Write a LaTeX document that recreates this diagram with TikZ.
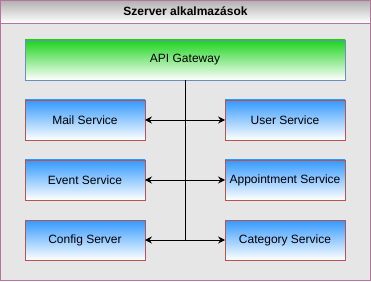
\documentclass[tikz,border=0pt]{standalone}
\usepackage{fontspec}
\setmainfont{Liberation Sans}
\usetikzlibrary{arrows.meta,positioning}
\definecolor{FrameLine}{HTML}{B5739D}
\definecolor{BodyGray}{HTML}{E6E6E6}
\definecolor{TitleGray}{HTML}{B0B0B0}
\definecolor{GateGreen}{HTML}{1ED31E}
\definecolor{GateLine}{HTML}{6C8EBF}
\definecolor{SvcBlue}{HTML}{3399FF}
\definecolor{SvcLine}{HTML}{B85450}
\tikzset{
  gwbox/.style={draw=GateLine, line width=0.8pt, top color=GateGreen, bottom color=white, minimum width=320pt, minimum height=40pt, inner sep=0pt, outer sep=0pt, font=\fontsize{12}{14}\selectfont},
  svcbox/.style={draw=SvcLine, line width=0.8pt, top color=SvcBlue, bottom color=white, minimum width=120pt, minimum height=40pt, inner sep=0pt, outer sep=0pt, font=\fontsize{12}{14}\selectfont},
  busline/.style={draw=black, line width=0.9pt},
  busarrow/.style={busline, {Stealth[length=7pt,width=7pt,inset=2.5pt]}-{Stealth[length=7pt,width=7pt,inset=2.5pt]}}
}

\begin{document}
\begin{tikzpicture}[x=1pt, y=1pt, node distance=20pt]
  \useasboundingbox (0,0) rectangle (371,281);
  % container with its title bar
  \fill[BodyGray] (0,0) rectangle (371,281);
  \shade[top color=TitleGray, bottom color=white] (0,258) rectangle (371,281);
  \draw[FrameLine, line width=0.8pt] (0,258) -- (371,258);
  \draw[FrameLine, line width=1pt] (0.5,0.5) rectangle (370.5,280.5);
  \node[font=\fontsize{12}{14}\selectfont\bfseries] (title) at (185.5,269.5) {Szerver alkalmazások};

  \node[gwbox] (gateway) at (185,221) {API Gateway};
  \node[svcbox, below right=20pt and 0pt of gateway.south west] (mail) {Mail Service};
  \node[svcbox, below left=20pt and 0pt of gateway.south east] (user) {User Service};
  \node[svcbox, below=of mail] (event) {Event Service};
  \node[svcbox, below=of user] (appointment) {Appointment Service};
  \node[svcbox, below=of event] (config) {Config Server};
  \node[svcbox, below=of appointment] (category) {Category Service};

  % bus from the gateway down to the services
  \draw[busline] (gateway.south) -- (gateway.south |- config.east);
  \draw[busarrow] (mail) -- (user);
  \draw[busarrow] (event) -- (appointment);
  \draw[busarrow] (config) -- (category);
\end{tikzpicture}
\end{document}
